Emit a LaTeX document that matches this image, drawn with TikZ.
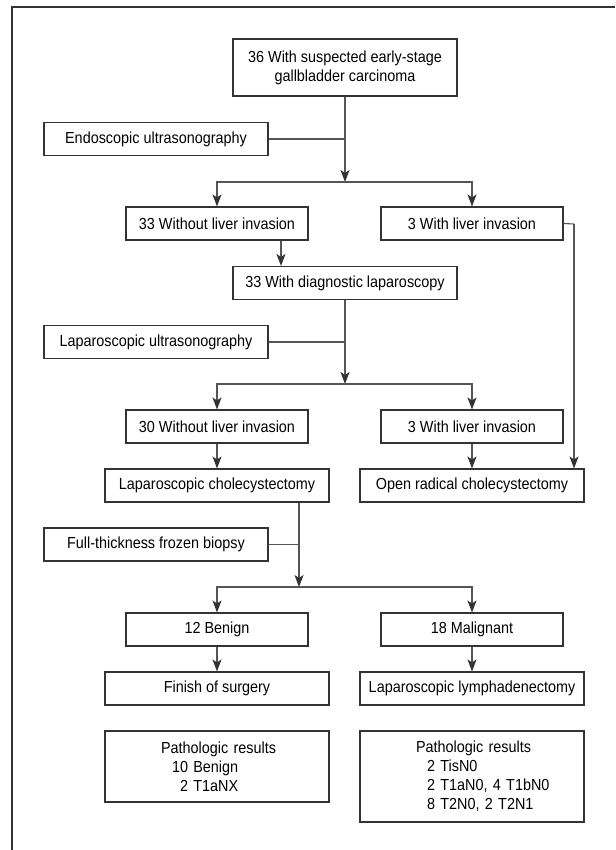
\documentclass[tikz,border=0pt]{standalone}
\usepackage{fontspec}
\setmainfont{Liberation Sans}[FakeStretch=0.9]
\usetikzlibrary{arrows.meta,positioning}
\definecolor{boxline}{HTML}{333333}
\definecolor{linkline}{HTML}{555555}

\begin{document}
\begin{tikzpicture}[x=1pt, y=-1pt,
  font=\fontsize{16}{19}\selectfont,
  box/.style={draw=boxline, line width=1.1pt, inner sep=0pt, minimum height=33pt, align=center},
  narrowbox/.style={box, minimum width=182pt},
  widebox/.style={box, minimum width=224pt},
  pathobox/.style={widebox, text width=112pt, align=left},
  link/.style={draw=linkline, line width=1.1pt},
  arrow/.style={link, arrows={-Stealth[length=12pt, width=9pt, inset=3pt, color=boxline]}}]
\useasboundingbox (0,0) rectangle (615,850);
\draw[boxline, line width=1.1pt] (615,7) -- (12,7) -- (12,850);

\node[widebox, minimum height=57pt] at (345,67.5) (suspect) {36 With suspected early-stage\\gallbladder carcinoma};
\node[widebox] at (156,139) (eus) {Endoscopic ultrasonography};
\node[narrowbox] at (217,223.5) (noinvA) {33 Without liver invasion};
\node[narrowbox] at (472,223.5) (invA) {3 With liver invasion};
\node[widebox] at (345,283) (diaglap) {33 With diagnostic laparoscopy};
\node[widebox] at (156,342) (lus) {Laparoscopic ultrasonography};
\node[narrowbox] at (217,426.5) (noinvB) {30 Without liver invasion};
\node[narrowbox] at (472,426.5) (invB) {3 With liver invasion};
\node[widebox] at (217,485.5) (lapchole) {Laparoscopic cholecystectomy};
\node[widebox] at (472,485.5) (openchole) {Open radical cholecystectomy};
\node[widebox] at (156,544.5) (frozen) {Full-thickness frozen biopsy};
\node[narrowbox] at (217,629.5) (benign) {12 Benign};
\node[narrowbox] at (472,629.5) (malig) {18 Malignant};
\node[widebox] at (217,688.5) (finish) {Finish of surgery};
\node[widebox] at (472,688.5) (lymph) {Laparoscopic lymphadenectomy};
\node[pathobox, minimum height=71pt] at (217,766.5) (pathoL)
  {\mbox{Pathologic results}\\\hspace*{11pt}\mbox{10 Benign}\\\hspace*{19pt}\mbox{2 T1aNX}};
\node[pathobox, minimum height=91pt] at (472,776.5) (pathoR)
  {\mbox{Pathologic results}\\\hspace*{11pt}\mbox{2 TisN0}\\\hspace*{11pt}\mbox{2 T1aN0, 4 T1bN0}\\\hspace*{11pt}\mbox{8 T2N0, 2 T2N1}};

% split points
\coordinate (splitA) at (345,182);
\coordinate (splitB) at (345,384);
\coordinate (splitC) at (299,587);
\coordinate (bendA) at (574,224);

% first stage: endoscopic ultrasonography
\draw[arrow] (suspect.south) -- (splitA);
\draw[link] (eus.east) -- (eus.east -| suspect.south);
\draw[arrow] (splitA) -| (noinvA.north);
\draw[arrow] (splitA) -| (invA.north);
\draw[arrow] ([xshift=64pt]noinvA.south) -- ([xshift=-64pt]diaglap.north);
\draw[link] (invA.east) -- (bendA);
\draw[arrow] (bendA) -- (bendA |- openchole.north);

% second stage: laparoscopic ultrasonography
\draw[arrow] (diaglap.south) -- (splitB);
\draw[link] (lus.east) -- (lus.east -| diaglap.south);
\draw[arrow] (splitB) -| (noinvB.north);
\draw[arrow] (splitB) -| (invB.north);
\draw[arrow] (noinvB) -- (lapchole);
\draw[arrow] (invB) -- (openchole);

% third stage: frozen biopsy
\draw[arrow] ([xshift=82pt]lapchole.south) -- (splitC);
\draw[link] (frozen.east) -- (frozen.east -| splitC);
\draw[arrow] (splitC) -| (benign.north);
\draw[arrow] (splitC) -| (malig.north);
\draw[arrow] (benign) -- (finish);
\draw[arrow] (malig) -- (lymph);
\end{tikzpicture}
\end{document}
